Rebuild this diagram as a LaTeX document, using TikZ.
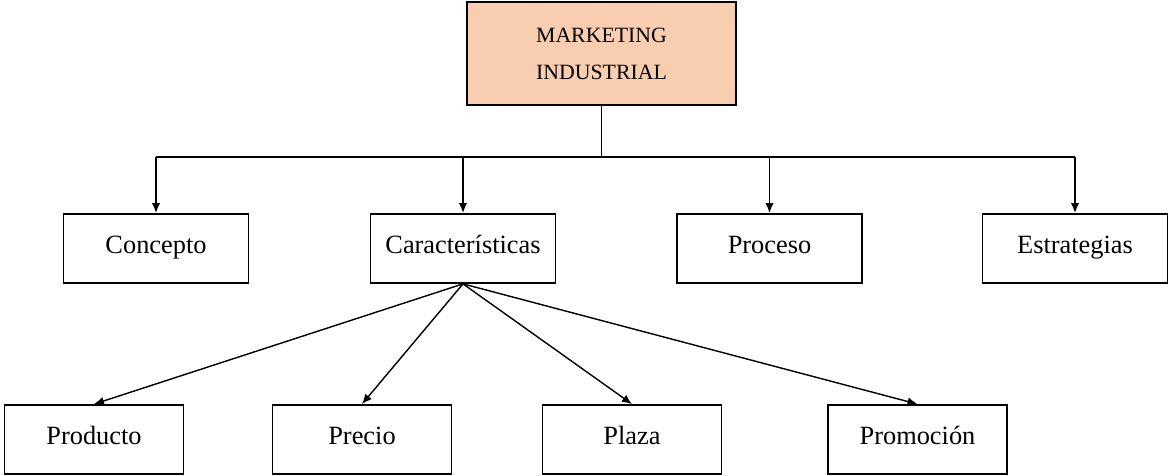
\documentclass[tikz,border=0pt]{standalone}
\usepackage{fontspec}
\setmainfont{Liberation Serif}
\usetikzlibrary{arrows.meta}

\tikzset{
    caja/.style={draw,line width=1pt,inner sep=0,align=center,text height=1.6ex,text depth=.4ex,
        minimum width=37mm,minimum height=13.8mm,font=\fontsize{15pt}{17pt}\selectfont},
    cajabaja/.style={caja,minimum width=35.8mm},
    flecha/.style={line width=1pt,-{Latex[length=2mm,width=1.7mm]}},
    flechadiag/.style={line width=0.8pt,-{Latex[length=2mm,width=1.7mm]}}
}
\definecolor{durazno}{RGB}{248,205,176}

\begin{document}
\begin{tikzpicture}[x=0.2mm,y=-0.2mm]
    \pgfmathsetmacro{\filados}{248.5}
    \pgfmathsetmacro{\filatres}{439.5}
    \pgfmathsetmacro{\bajada}{51}
    \useasboundingbox (0,0) rectangle (1169,476);
    % titulo
    \node[draw,line width=1pt,fill=durazno,minimum width=53.8mm,minimum height=20.6mm,inner sep=0,align=center,
        font=\fontsize{12.4pt}{21pt}\selectfont] (mkt) at (601.5,53.5) {MARKETING\\INDUSTRIAL};
    % segundo nivel
    \node[caja] (concepto) at (156,\filados) {Concepto};
    \node[caja] (caract) at (463,\filados) {Características};
    \node[caja] (proceso) at (769.5,\filados) {Proceso};
    \node[caja] (estrat) at (1075,\filados) {Estrategias};
    % tercer nivel
    \node[cajabaja] (producto) at (94,\filatres) {Producto};
    \node[cajabaja] (precio) at (362,\filatres) {Precio};
    \node[cajabaja] (plaza) at (632,\filatres) {Plaza};
    \node[cajabaja] (promo) at (917.5,\filatres) {Promoción};
    \draw[line width=1pt] (mkt.south) -- ++(0,\bajada) coordinate (bus);
    \draw[line width=1pt] (concepto.north |- bus) -- (estrat.north |- bus);
    \foreach \n in {concepto,caract,proceso,estrat}
        \draw[flecha] (\n.north |- bus) -- (\n.north);
    \foreach \n in {producto,precio,plaza,promo}
        \draw[flechadiag] (caract.south) -- (\n.north);
\end{tikzpicture}
\end{document}
